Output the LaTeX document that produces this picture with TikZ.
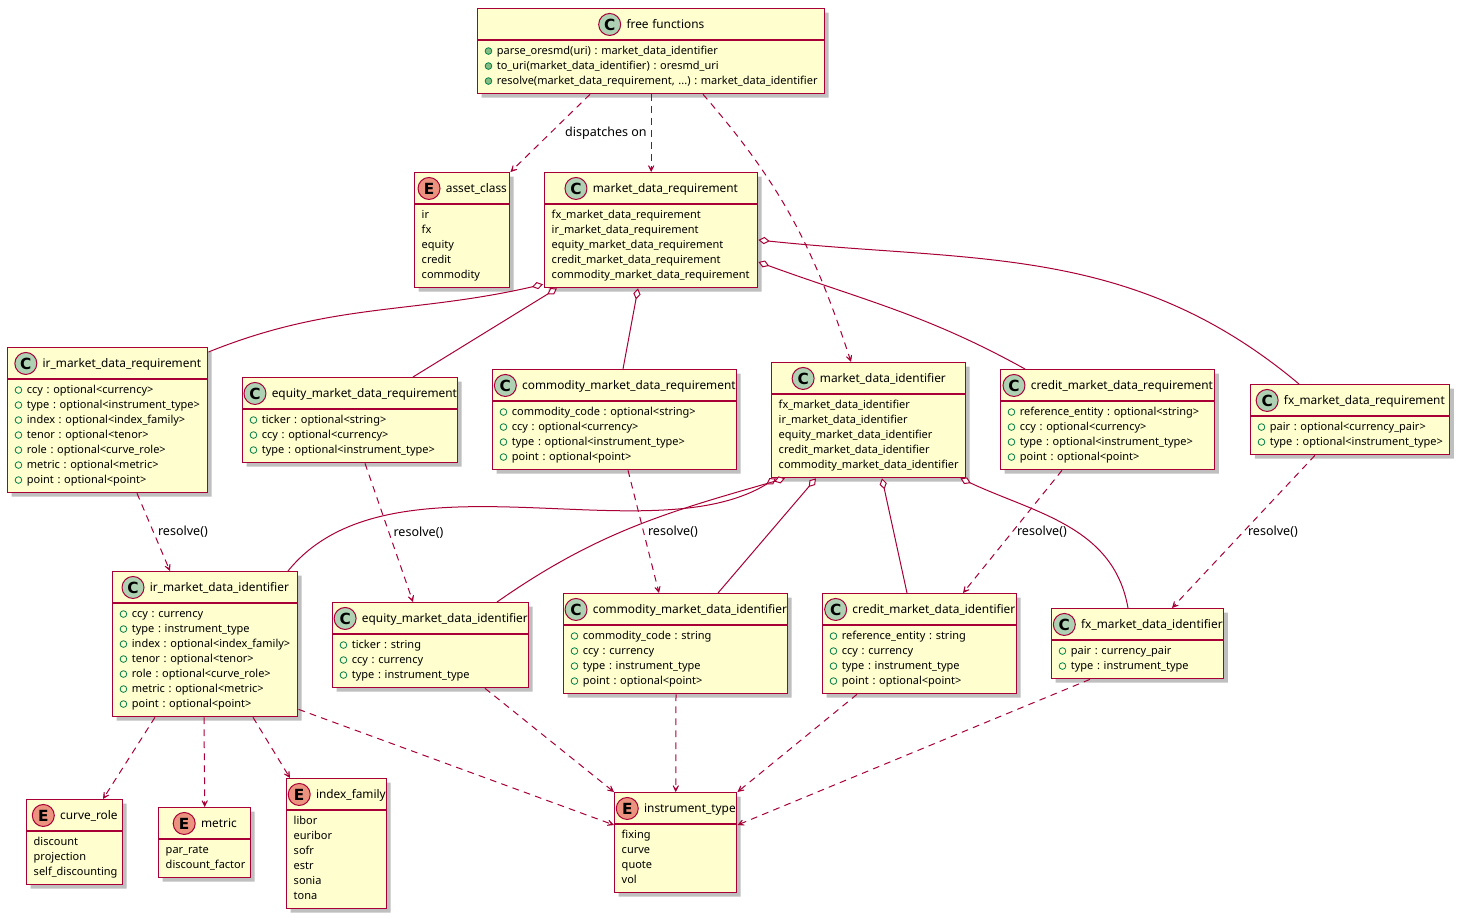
\documentclass[tikz,border=0pt]{standalone}
\usepackage{fontspec}
\setmainfont{Noto Sans}
\newfontfamily\iconfont{DejaVu Sans}
\usetikzlibrary{shapes}
\usetikzlibrary{arrows.meta}
\usetikzlibrary{calc}
\usetikzlibrary{shadows}

\definecolor{umlred}{HTML}{A80036}
\definecolor{umlfill}{HTML}{FEFECE}
\definecolor{cicon}{HTML}{ADD1B2}
\definecolor{eicon}{HTML}{EB937F}
\definecolor{fldgreen}{HTML}{038048}
\definecolor{mthgreen}{HTML}{84BE84}

\frenchspacing
\newcommand{\umlicon}[2]{\tikz[baseline=-3pt]\node[shape=circle,anchor=center,draw=umlred,line width=0.75pt,fill=#1,inner sep=0pt,minimum size=16.5pt,text width=,align=center,font=\iconfont\bfseries\fontsize{11.5}{11.5}\selectfont]{#2};}
\newcommand{\clshead}[3]{\hbox to\hsize{\hss\rule[-5.65pt]{0pt}{17.3pt}\smash{\umlicon{#1}{#2}}\hspace{4pt}{\fontsize{8.9}{10}\selectfont #3}\hss}}
\newcommand{\fld}[1]{\mbox{\strut\tikz[baseline=-2.9pt]\draw[fldgreen,line width=0.6pt](0,0) circle (2.5pt);\hspace{3.5pt}#1}}
\newcommand{\mth}[1]{\mbox{\strut\tikz[baseline=-2.9pt]\draw[fldgreen,fill=mthgreen,line width=0.6pt](0,0) circle (2.5pt);\hspace{3.5pt}#1}}
\newcommand{\enm}[1]{\mbox{\strut #1}}

\begin{document}
\begin{tikzpicture}[x=0.75pt,y=-0.75pt]
	\tikzstyle{cls}=[rectangle split, rectangle split parts=2, draw=umlred, line width=1.1pt, fill=umlfill, anchor=north west, inner xsep=5.25pt, inner ysep=2.6pt, align=left, font=\fontsize{8.25}{11.25}\selectfont, drop shadow={shadow xshift=3pt, shadow yshift=-3pt, opacity=0.25, fill=black}]
	\tikzstyle{dep}=[umlred, line width=0.75pt, dash pattern=on 5pt off 4pt, -{Stealth[length=8pt, width=8pt, inset=5.5pt]}]
	\tikzstyle{agg}=[umlred, line width=0.75pt, -{Diamond[length=8.5pt, width=5.5pt, fill=white]}]
	\tikzstyle{lbl}=[font=\fontsize{9.4}{11}\selectfont, text=black, inner sep=3pt]

	\path[fill=white] (0,0) rectangle (1459,917);
	\useasboundingbox (0,0) rectangle (1459,917);

	\node[cls, text width=249.75pt] (free) at (477,8) {\clshead{cicon}{C}{free functions}\nodepart{two}\mth{parse\_oresmd(uri) : market\_data\_identifier}\\\mth{to\_uri(market\_data\_identifier) : oresmd\_uri}\\\mth{resolve(market\_data\_requirement, ...) : market\_data\_identifier}};

	\node[cls, text width=60.75pt] (ac) at (414,172) {\clshead{eicon}{E}{asset\_class}\nodepart{two}\enm{ir}\\\enm{fx}\\\enm{equity}\\\enm{credit}\\\enm{commodity}};
	\node[cls, text width=149.25pt] (mdr) at (544,172) {\clshead{cicon}{C}{market\_data\_requirement}\nodepart{two}\enm{fx\_market\_data\_requirement}\\\enm{ir\_market\_data\_requirement}\\\enm{equity\_market\_data\_requirement}\\\enm{credit\_market\_data\_requirement}\\\enm{commodity\_market\_data\_requirement}};

	\node[cls, text width=139.5pt] (irq) at (7,347) {\clshead{cicon}{C}{ir\_market\_data\_requirement}\nodepart{two}\fld{ccy : optional<currency>}\\\fld{type : optional<instrument\_type>}\\\fld{index : optional<index\_family>}\\\fld{tenor : optional<tenor>}\\\fld{role : optional<curve\_role>}\\\fld{metric : optional<metric>}\\\fld{point : optional<point>}};
	\node[cls, text width=150.75pt] (eqq) at (242,377) {\clshead{cicon}{C}{equity\_market\_data\_requirement}\nodepart{two}\fld{ticker : optional<string>}\\\fld{ccy : optional<currency>}\\\fld{type : optional<instrument\_type>}};
	\node[cls, text width=172.5pt] (coq) at (492,369) {\clshead{cicon}{C}{commodity\_market\_data\_requirement}\nodepart{two}\fld{commodity\_code : optional<string>}\\\fld{ccy : optional<currency>}\\\fld{type : optional<instrument\_type>}\\\fld{point : optional<point>}};
	\node[cls, text width=135pt] (mdi) at (771,362) {\clshead{cicon}{C}{market\_data\_identifier}\nodepart{two}\enm{fx\_market\_data\_identifier}\\\enm{ir\_market\_data\_identifier}\\\enm{equity\_market\_data\_identifier}\\\enm{credit\_market\_data\_identifier}\\\enm{commodity\_market\_data\_identifier}};
	\node[cls, text width=150pt] (crq) at (1000,369) {\clshead{cicon}{C}{credit\_market\_data\_requirement}\nodepart{two}\fld{reference\_entity : optional<string>}\\\fld{ccy : optional<currency>}\\\fld{type : optional<instrument\_type>}\\\fld{point : optional<point>}};
	\node[cls, text width=138.75pt] (fxq) at (1250,384) {\clshead{cicon}{C}{fx\_market\_data\_requirement}\nodepart{two}\fld{pair : optional<currency\_pair>}\\\fld{type : optional<instrument\_type>}};

	\node[cls, text width=128.25pt] (iri) at (112,571) {\clshead{cicon}{C}{ir\_market\_data\_identifier}\nodepart{two}\fld{ccy : currency}\\\fld{type : instrument\_type}\\\fld{index : optional<index\_family>}\\\fld{tenor : optional<tenor>}\\\fld{role : optional<curve\_role>}\\\fld{metric : optional<metric>}\\\fld{point : optional<point>}};
	\node[cls, text width=136.5pt] (eqi) at (332,602) {\clshead{cicon}{C}{equity\_market\_data\_identifier}\nodepart{two}\fld{ticker : string}\\\fld{ccy : currency}\\\fld{type : instrument\_type}};
	\node[cls, text width=157.5pt] (coi) at (563,593) {\clshead{cicon}{C}{commodity\_market\_data\_identifier}\nodepart{two}\fld{commodity\_code : string}\\\fld{ccy : currency}\\\fld{type : instrument\_type}\\\fld{point : optional<point>}};
	\node[cls, text width=135pt] (cri) at (822,593) {\clshead{cicon}{C}{credit\_market\_data\_identifier}\nodepart{two}\fld{reference\_entity : string}\\\fld{ccy : currency}\\\fld{type : instrument\_type}\\\fld{point : optional<point>}};
	\node[cls, text width=118.5pt] (fxi) at (1051,608) {\clshead{cicon}{C}{fx\_market\_data\_identifier}\nodepart{two}\fld{pair : currency\_pair}\\\fld{type : instrument\_type}};

	\node[cls, text width=61.5pt] (cr) at (26,799) {\clshead{eicon}{E}{curve\_role}\nodepart{two}\enm{discount}\\\enm{projection}\\\enm{self\_discounting}};
	\node[cls, text width=58.5pt] (met) at (158,807) {\clshead{eicon}{E}{metric}\nodepart{two}\enm{par\_rate}\\\enm{discount\_factor}};
	\node[cls, text width=64.5pt] (idx) at (286,778) {\clshead{eicon}{E}{index\_family}\nodepart{two}\enm{libor}\\\enm{euribor}\\\enm{sofr}\\\enm{estr}\\\enm{sonia}\\\enm{tona}};
	\node[cls, text width=81pt] (it) at (614,792) {\clshead{eicon}{E}{instrument\_type}\nodepart{two}\enm{fixing}\\\enm{curve}\\\enm{quote}\\\enm{vol}};

	\draw[dep] ($(free.south west)+(113,0)$) -- (ac.north east);
	\draw[dep] (free.south) -- node[lbl, left] {dispatches on} (mdr.north);
	\draw[dep] ($(free.south west)+(226,0)$) to[out=-49, in=108] ($(mdi.north west)+(80,0)$);

	\draw[agg] ($(irq.north east)+(0,5)$) to[out=22, in=193] ($(mdr.south west)+(-1,-4)$);
	\draw[agg] ($(eqq.north west)+(171,0)$) -- ($(mdr.south west)+(13,0)$);
	\draw[agg] ($(coq.north west)+(131,0)$) -- ($(mdr.south west)+(94,0)$);
	\draw[agg] ($(crq.north west)+(25,0)$) to[out=151, in=-20] ($(mdr.north east)+(0,90)$);
	\draw[agg] ($(fxq.north west)+(49,0)$) to[out=140, in=-6] ($(mdr.north east)+(0,68)$);

	\draw[dep] ($(irq.south west)+(130,0)$) -- node[lbl, right] {resolve()} ($(iri.north west)+(58,0)$);
	\draw[dep] ($(eqq.south west)+(123,0)$) -- node[lbl, right] {resolve()} ($(eqi.north west)+(81,0)$);
	\draw[dep] ($(coq.south west)+(136,0)$) -- node[lbl, right] {resolve()} ($(coi.north west)+(96,0)$);
	\draw[dep] ($(crq.south west)+(62,0)$) -- node[lbl, right] {resolve()} ($(cri.north west)+(141,0)$);
	\draw[dep] ($(fxq.south west)+(65,0)$) -- node[lbl, right] {resolve()} ($(fxi.north west)+(121,0)$);

	\draw[agg] ($(iri.north west)+(176,0)$) .. controls ($(iri.north west)+(278,-126)$) and ($(mdi.south west)+(-121,78)$) .. ($(mdi.south west)+(5,0)$);
	\draw[agg] ($(eqi.north west)+(165,0)$) to[out=35, in=196] ($(mdi.south west)+(14,0)$);
	\draw[agg] ($(coi.north west)+(155,0)$) -- ($(mdi.south west)+(45,0)$);
	\draw[agg] ($(cri.north west)+(85,0)$) -- ($(mdi.south west)+(111,0)$);
	\draw[agg] ($(fxi.north west)+(77,0)$) to[out=100, in=-25] ($(mdi.south east)+(-6,0)$);

	\draw[dep] ($(iri.south west)+(43,0)$) -- ($(cr.north west)+(77,0)$);
	\draw[dep] ($(iri.south west)+(92,0)$) -- (met.north);
	\draw[dep] ($(iri.south west)+(141,0)$) -- ($(idx.north west)+(4,0)$);
	\draw[dep] ($(iri.south east)+(0,-8)$) -- ($(it.north west)+(0,33)$);
	\draw[dep] ($(eqi.south west)+(153,0)$) -- (it.north west);
	\draw[dep] ($(coi.south west)+(113,0)$) -- (it.north);
	\draw[dep] ($(cri.south west)+(35,0)$) -- (it.north east);
	\draw[dep] ($(fxi.south west)+(39,0)$) -- ($(it.north east)+(0,33)$);
\end{tikzpicture}
\end{document}
